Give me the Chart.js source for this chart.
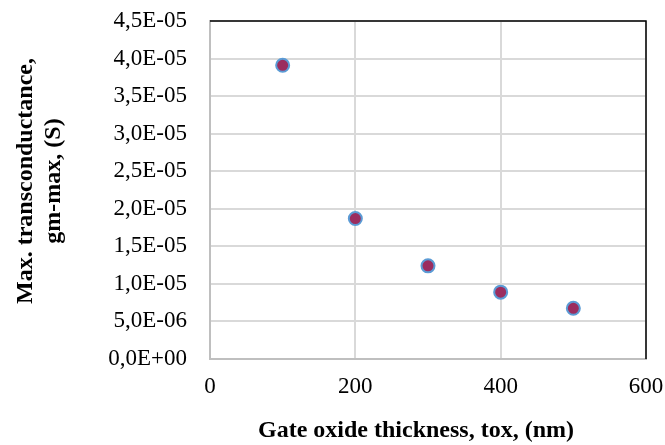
<!DOCTYPE html>
<html>
<head>
<meta charset="utf-8">
<script src="https://cdn.jsdelivr.net/npm/chart.js@4"></script>
<style>
  html, body { margin: 0; padding: 0; background: #fff; }
  #wrap { width: 665px; height: 445px; }
</style>
</head>
<body>
<div id="wrap"><canvas id="gmChart" width="665" height="445"></canvas></div>
<script>
// Espesor del óxido de compuerta vs transconductancia máxima
const thickness = [100, 200, 300, 400, 500];          // nm
const gmMax = [3.91e-5, 1.87e-5, 1.24e-5, 8.9e-6, 6.75e-6]; // S

// espacios extra para descentrar un poco los títulos (como en el original)
const xTitle = 'Gate oxide thickness, tox, (nm)    ';
const yTitle = ['   Max. transconductance,', '   gm-max, (S)'];

const FONT = "'Liberation Serif', 'Times New Roman', serif";

// 4.5e-5 -> "4,5E-05"
function sciComma(v) {
    const parts = Number(v).toExponential(1).split('e');
    const mant = parts[0].replace('.', ',');
    let exp = parseInt(parts[1], 10);
    const sign = exp < 0 ? '-' : '+';
    exp = Math.abs(exp);
    return mant + 'E' + sign + (exp < 10 ? '0' + exp : exp);
}

// borde superior y derecho en negro, como en Excel
const frameLines = {
    id: 'frameLines',
    afterDraw(chart) {
        const a = chart.chartArea;
        const ctx = chart.ctx;
        ctx.save();
        ctx.strokeStyle = '#000';
        ctx.lineWidth = 1.5;
        ctx.beginPath();
        ctx.moveTo(a.left, a.top);
        ctx.lineTo(a.right, a.top);
        ctx.lineTo(a.right, a.bottom);
        ctx.stroke();
        ctx.restore();
    }
};

new Chart(document.getElementById('gmChart').getContext('2d'), {
    type: 'scatter',
    data: {
        datasets: [{
            label: 'gm-max',
            data: thickness.map((t, i) => ({ x: t, y: gmMax[i] })),
            backgroundColor: '#9B2D5F',
            borderColor: '#5B9BD5',
            borderWidth: 2,
            pointRadius: 6.5,
            pointHoverRadius: 6.5
        }]
    },
    options: {
        responsive: false,
        animation: false,
        layout: { padding: { top: 21, right: 19, bottom: 0, left: 0 } },
        plugins: { legend: { display: false }, tooltip: { enabled: false } },
        scales: {
            x: {
                type: 'linear',
                min: 0,
                max: 600,
                afterFit: (s) => { s.height = 86; s.paddingLeft = 0; s.paddingRight = 0; },
                ticks: { stepSize: 200, padding: 14, color: '#000', font: { family: FONT, size: 23 } },
                grid: { color: '#D9D9D9', lineWidth: 2, drawTicks: false },
                border: { color: '#BFBFBF', width: 2 },
                title: { display: true, text: xTitle, color: '#000', padding: { top: 0, bottom: 0 },
                         font: { family: FONT, size: 24, weight: 'bold' } }
            },
            y: {
                type: 'linear',
                min: 0,
                max: 4.5e-5,
                afterFit: (s) => { s.width = 210; s.paddingTop = 0; s.paddingBottom = 0; },
                ticks: { stepSize: 5e-6, padding: 23, color: '#000', font: { family: FONT, size: 23 },
                         callback: (v) => sciComma(v) },
                grid: { color: '#D9D9D9', lineWidth: 2, drawTicks: false },
                border: { color: '#BFBFBF', width: 2 },
                title: { display: true, text: yTitle, color: '#000', padding: { top: 11, bottom: 0 },
                         font: { family: FONT, size: 24, weight: 'bold' } }
            }
        }
    },
    plugins: [frameLines]
});
</script>
</body>
</html>
